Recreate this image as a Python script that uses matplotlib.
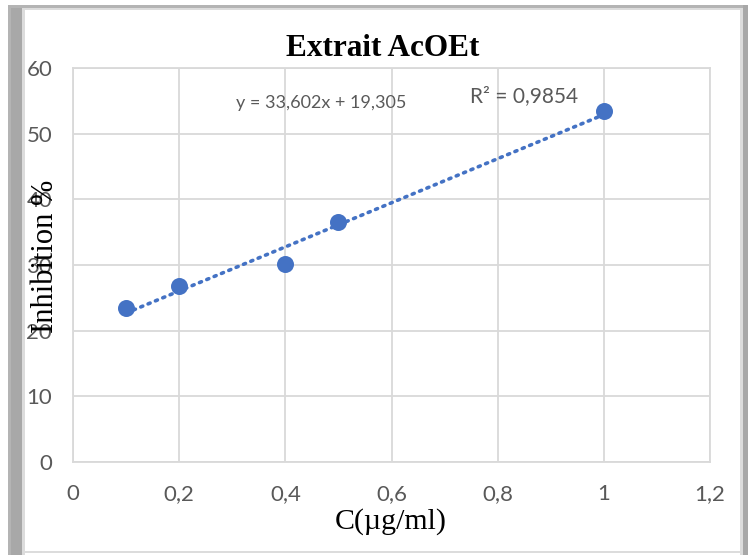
import matplotlib
matplotlib.use("Agg")
import matplotlib.pyplot as plt
from matplotlib.patches import Rectangle
import numpy as np

# Data
conc = [0.1, 0.2, 0.4, 0.5, 1.0]
inhibition = [23.5, 26.8, 30.2, 36.5, 53.5]
xticks = [0, 0.2, 0.4, 0.6, 0.8, 1.0, 1.2]
xtick_labels = ["0", "0,2", "0,4", "0,6", "0,8", "1", "1,2"]
yticks = [0, 10, 20, 30, 40, 50, 60]
ytick_labels = ["0", "10", "20", "30", "40", "50", "60"]
title = "Extrait AcOEt"
xlabel = "C(µg/ml)"
ylabel = "Inhibition %"
eq_text = "y = 33,602x + 19,305"
r2_text = "R² = 0,9854"

W, H = 748, 555
fig = plt.figure(figsize=(W / 100, H / 100), dpi=100)

def rect(x0, y0, x1, y1, color):
    fig.patches.append(Rectangle((x0 / W, 1 - y1 / H), (x1 - x0) / W, (y1 - y0) / H,
                                 transform=fig.transFigure, color=color, zorder=-1, lw=0))

# frame decorations
rect(8, 5, 748, 8, "#b4b4b4")
rect(8, 5, 24, 555, "#b4b4b4")
rect(11, 8, 22, 555, "#a8a8a8")
rect(743, 5, 748, 555, "#a8a8a8")
rect(24, 8, 743, 10, "#dcdcdc")
rect(22, 8, 25, 555, "#dcdcdc")
rect(740, 8, 743, 555, "#dcdcdc")
rect(24, 551, 743, 553, "#dcdcdc")

blue = "#4472C4"
grid = "#d9d9d9"
tickc = "#595959"
sansf = ["Lato", "DejaVu Sans"]
serif = ["Liberation Serif", "DejaVu Serif"]

ax = fig.add_axes([73 / W, 1 - 462 / H, (710 - 73) / W, (462 - 68) / H])
ax.set_xlim(0, 1.2)
ax.set_ylim(0, 60)
ax.set_xticks(xticks)
ax.set_xticklabels(xtick_labels, family=sansf, fontsize=16, color=tickc)
ax.set_yticks(yticks)
ax.set_yticklabels(ytick_labels, family=sansf, fontsize=16, color=tickc)
ax.tick_params(axis="y", length=0, pad=15)
ax.tick_params(axis="x", length=0, pad=16)
ax.grid(True, color=grid, lw=1.3)
ax.set_axisbelow(True)
for s in ax.spines.values():
    s.set_color(grid)
    s.set_linewidth(1.3)

# trendline
slope, intercept = np.polyfit(conc, inhibition, 1)
xs = np.array([min(conc), max(conc)])
ax.plot(xs, slope * xs + intercept, linestyle=(0, (0.6, 1.6)), color=blue, lw=2.6,
        dash_capstyle="round", zorder=2)
ax.scatter(conc, inhibition, s=150, color=blue, zorder=3, lw=0)

ax.text(0.308, 54.6, eq_text, family=sansf, fontsize=13, color=tickc, va="center", ha="left")
ax.text(0.748, 55.7, r2_text, family=sansf, fontsize=15, color=tickc, va="center", ha="left")

fig.text(383 / W, 1 - 49 / H, title, family=serif, fontsize=22.5, fontweight="bold",
         ha="center", va="center")
fig.text(391 / W, 1 - 522 / H, xlabel, family=serif, fontsize=21.5, ha="center", va="center")
fig.text(46 / W, 1 - 256 / H, ylabel, family=serif, fontsize=22, ha="center", va="center",
         rotation=90)

fig.savefig("out.png", dpi=100)
